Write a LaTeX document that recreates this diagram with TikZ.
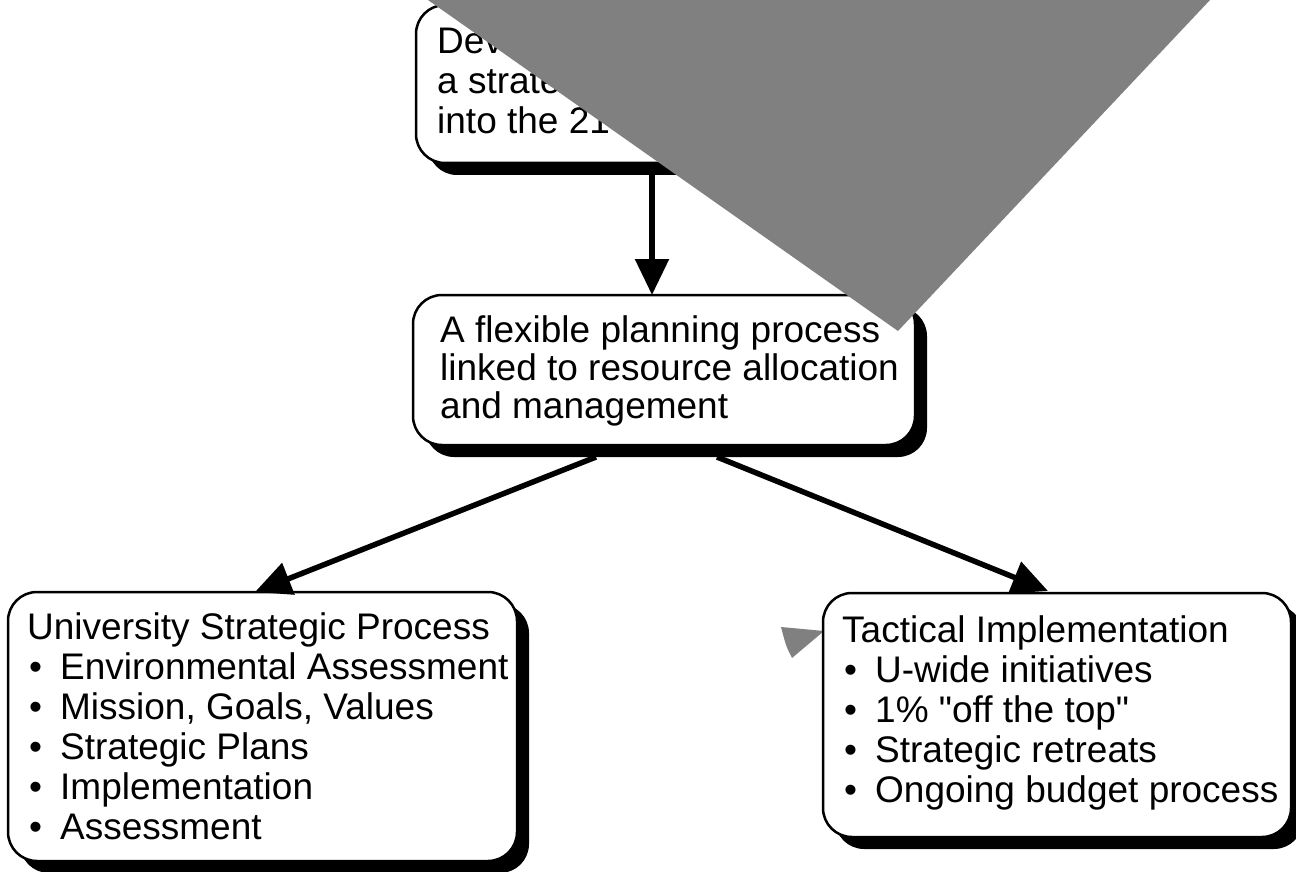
\documentclass[tikz,border=0pt]{standalone}
\usepackage{fontspec}
\setmainfont{Liberation Sans}[Ligatures=TeXOff]
\usetikzlibrary{arrows.meta,shadows}
\newcommand\bul{\makebox[33pt][l]{\hspace*{2pt}•}}
\newcommand\fl{\rule{0pt}{30pt}}
\begin{document}
\begin{tikzpicture}[x=1pt,y=-1pt,
  box/.style={draw, line width=2.5pt, rounded corners=29pt, fill=white,
    general shadow={fill=black, shadow xshift=12pt, shadow yshift=-12pt},
    anchor=north west, inner sep=0pt, outer sep=0pt},
  txt/.style={anchor=north west, inner sep=0pt, align=left,
    font=\fontsize{37pt}{40pt}\selectfont},
  arr/.style={line width=5.5pt, -{Triangle[length=36pt,width=33pt]}},
  veil/.style={fill=black!50, draw=none}]
\useasboundingbox (0,0) rectangle (1296,872);
% small grey wedge behind the right box
\fill[black!50] (781,627) -- (824,631) -- (792,658) .. controls (786,646) .. cycle;
% boxes
\node[box, minimum width=499pt, minimum height=158pt] (top) at (416,5) {};
\node[box, minimum width=502pt, minimum height=150pt] (mid) at (413,295) {};
\node[box, minimum width=509pt, minimum height=269pt] (lft) at (8,592) {};
\node[box, minimum width=468pt, minimum height=244pt] (rgt) at (823,593) {};
% texts
\node[txt] (ttop) at (437,23) {\fl Dev\\a strate\\into the 21};
\node[txt, font=\fontsize{37pt}{38pt}\selectfont] (tmid) at (440,312) {\fl A flexible planning process\\linked to resource allocation\\and management};
\node[txt] (tlft) at (27,609) {\fl University Strategic Process\\
\bul Environmental Assessment\\
\bul Mission, Goals, Values\\
\bul Strategic Plans\\
\bul Implementation\\
\bul Assessment};
\node[txt] (trgt) at (842,612) {\fl Tactical Implementation\\
\bul U-wide initiatives\\
\bul 1\% "off the top"\\
\bul Strategic retreats\\
\bul Ongoing budget process};
% connectors
\draw[arr] ([xshift=-13.5pt,yshift=-12pt]top.south) -- ([xshift=-12pt]mid.north);
\draw[arr] ([xshift=-68pt,yshift=-12pt]mid.south) -- ([xshift=-7.5pt]lft.north);
\draw[arr] ([xshift=53pt,yshift=-12pt]mid.south) -- ([xshift=-9pt,yshift=2pt]rgt.north);
% grey veil over the top
\fill[veil] (428,0) -- (1210,0) -- (898,331) -- cycle;
\end{tikzpicture}
\end{document}
